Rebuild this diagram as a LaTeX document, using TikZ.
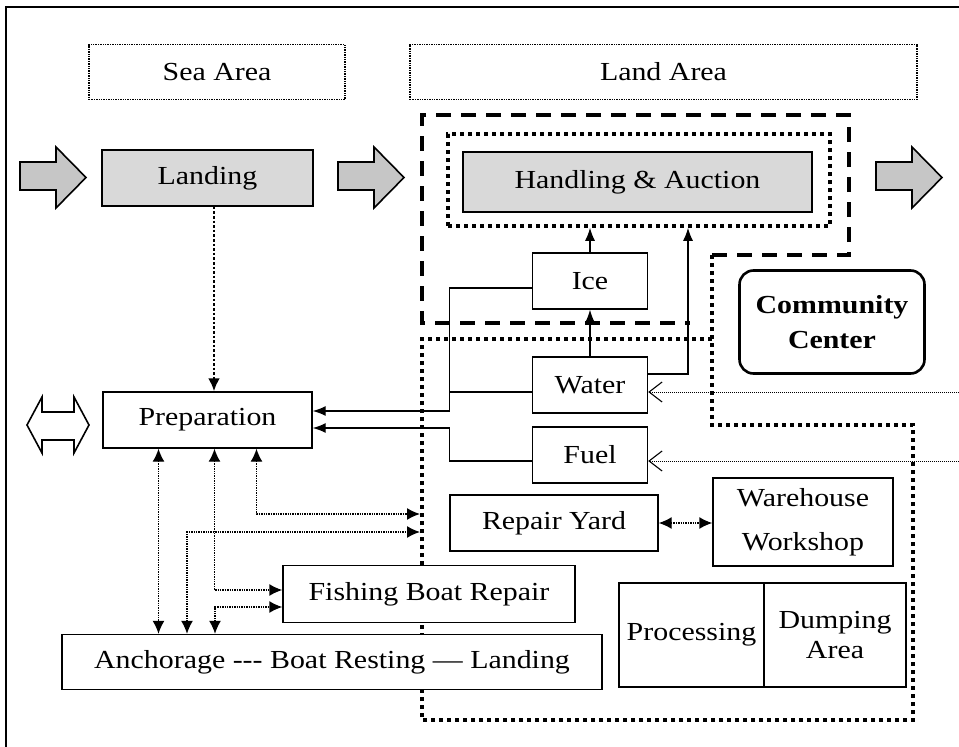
\documentclass[tikz,border=0pt]{standalone}
\usepackage{fontspec}
\setmainfont{Liberation Serif}[FakeStretch=1.15]
\usetikzlibrary{arrows.meta}

\begin{document}
\begin{tikzpicture}[x=1pt,y=-1pt,
  box/.style={draw,line width=1.4pt,fill=white,inner sep=0pt,align=center,font=\fontsize{26}{30}\selectfont},
  area/.style={draw,line width=1.4pt,densely dotted,inner sep=0pt,font=\fontsize{26}{30}\selectfont},
  fat/.style={draw,line width=1.6pt,fill=gray!45},
  zone/.style={line width=3.6pt,dash pattern=on 4pt off 4pt},
  link/.style={line width=1.4pt,densely dotted,{Latex[length=13pt,width=12pt]}-{Latex[length=13pt,width=12pt]}},
  feed/.style={line width=1.3pt,-{Latex[length=13pt,width=10pt]}},
  supply/.style={line width=1pt,densely dotted,-{Straight Barb[length=13pt,width=20pt,line width=1.1pt]}}]
%\draw[help lines] (0,0) grid[step=50] (959,747);
\useasboundingbox (0,0) rectangle (959,747);
\draw[line width=2pt] (959,7) -- (6,7) -- (6,747);
\draw[line width=3.8pt,dash pattern=on 15pt off 10pt] (712,255) -- (849,255) -- (849,115) -- (422,115) -- (422,323) -- (690,323);
\draw[zone] (712,255) -- (712,425) -- (913,425) -- (913,720) -- (422,720) -- (422,339) -- (712,339);
\foreach \x/\y/\w/\n/\t in {217/72/256/sea/Sea Area, 663.5/72/507/land/Land Area}
  \node[area,minimum width=\w pt,minimum height=55pt] (\n) at (\x,\y) {\t};
\foreach \a in {20, 338, 876}
  \draw[fat] (\a,162) -- ++(36,0) -- ++(0,-15) -- ++(30,30.5) -- ++(-30,30.5) -- ++(0,-18) -- ++(-36,0) -- cycle;
\draw[line width=1.6pt,fill=white] (27,425) -- (42,397) -- (42,412) -- (74,412) -- (74,397) -- (89,425) -- (74,453) -- (74,440) -- (42,440) -- (42,453) -- cycle;
\node[box,fill=gray!30,minimum width=211pt,minimum height=56pt] (landing) at (207.5,178) {Landing};
\node[draw,zone,minimum width=382pt,minimum height=92pt] (hframe) at (639,180) {};
\node[box,fill=gray!30,minimum width=349pt,minimum height=60pt] (handling) at (637.5,182) {Handling \& Auction};
\foreach \x/\y/\w/\h/\n/\t in {207.5/420/209/56/prep/Preparation, 590/281/115/56/ice/Ice, 590/385/115/56/water/Water,
    590/455/115/56/fuel/Fuel, 554/523/208/56/repair/Repair Yard, 803/522/180/88/store/{Warehouse\\[14pt]Workshop},
    429/594/292/57/boatrep/Fishing Boat Repair, 332/662/540/55/anchor/{Anchorage -{}-{}- Boat Resting --- Landing},
    691.5/635/145/104/proc/Processing, 835/635/142/104/dump/{Dumping\\Area}}
  \node[box,minimum width=\w pt,minimum height=\h pt] (\n) at (\x,\y) {\t};
\node[box,line width=2.6pt,rounded corners=14pt,font=\fontsize{26}{30}\selectfont\bfseries,minimum width=185pt,minimum height=103pt] (center) at (832,322) {Community\\[5pt]Center};
\coordinate (yard1) at (420,514);
\coordinate (yard2) at (420,532);
\coordinate (wsrc) at (959,392);
\coordinate (fsrc) at (959,461);
\draw[line width=2.6pt,dash pattern=on 2.6pt off 2pt,-{Latex[length=13pt,width=12pt]}] ([xshift=6.5pt]landing.south) -- ([xshift=6.5pt]prep.north);
\draw[link] ([xshift=-49pt]prep.south) -- ([xshift=-49pt]prep.south |- anchor.north);
\draw[link] ([xshift=7pt]prep.south) |- ([yshift=4pt]boatrep.west);
\draw[link] ([xshift=49pt]prep.south) |- (yard1);
\draw[link] ([xshift=-145pt]anchor.north) |- (yard2);
\draw[link] ([xshift=-117pt]anchor.north) |- ([yshift=-13pt]boatrep.west);
\draw[link] (repair.east) -- (repair.east -| store.west);
\draw[feed] ([yshift=-7pt]ice.west) -- ++(-82,0) |- ([yshift=9pt]prep.east);
\draw[line width=1.3pt] ([yshift=-7pt]water.west) -- ++(-82,0);
\draw[feed] ([yshift=-6pt]fuel.west) -- ++(-82,0) |- ([yshift=-8pt]prep.east);
\draw[feed] (water.north) -- (ice.south);
\draw[feed] (ice.north) -- (ice.north |- hframe.south);
\draw[feed] ([yshift=11pt]water.east) -| ([xshift=49pt]hframe.south);
\draw[supply] (wsrc) -- ([yshift=-7pt]water.east);
\draw[supply] (fsrc) -- ([yshift=-6pt]fuel.east);
\end{tikzpicture}
\end{document}
